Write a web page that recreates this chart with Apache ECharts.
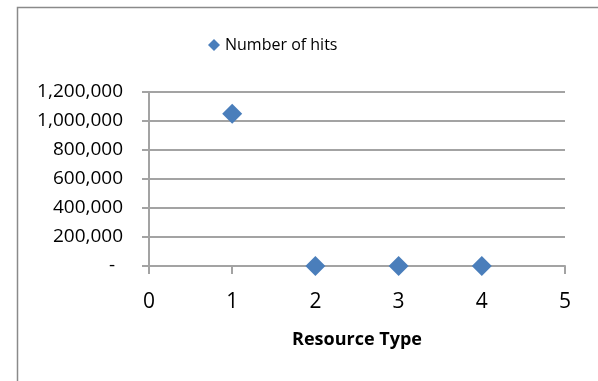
<!DOCTYPE html>
<html>
<head>
<meta charset="utf-8">
<script src="https://cdn.jsdelivr.net/npm/echarts@6/dist/echarts.min.js"></script>
<style>
  html, body { margin: 0; padding: 0; background: #fff; }
  #chart { width: 598px; height: 381px; }
</style>
</head>
<body>
<div id="chart"></div>
<script>
// Hits per resource type
const seriesName = 'Number of hits';
const resourceTypes = [1, 2, 3, 4];
const hits = [1050000, 0, 0, 0];
const xTicks = [0, 1, 2, 3, 4, 5];
const yTicks = [0, 200000, 400000, 600000, 800000, 1000000, 1200000];

const FONT = '"Open Sans", sans-serif';
const GRID_GRAY = '#a3a3a3';
const MARK_BLUE = '#4a7ebb';

const chart = echarts.init(document.getElementById('chart'), null, { renderer: 'canvas' });

function fmtThousands(v) {
  return String(v).replace(/\B(?=(\d{3})+(?!\d))/g, ',');
}

chart.setOption({
  animation: false,
  backgroundColor: '#fff',
  graphic: [{
    type: 'rect',
    left: 15, top: 5,
    shape: { width: 800, height: 600 },
    style: { fill: 'none', stroke: '#8a8a8a', lineWidth: 1.5 },
    silent: true
  }],
  legend: {
    left: 203, top: 32,
    itemWidth: 12, itemHeight: 12,
    itemGap: 10,
    textStyle: { fontFamily: FONT, fontSize: 16, color: '#000' },
    data: [{ name: seriesName, icon: 'diamond', itemStyle: { color: MARK_BLUE, opacity: 1 } }]
  },
  grid: { left: 149, right: 33, top: 92, bottom: 115 },
  xAxis: {
    type: 'value',
    min: xTicks[0], max: xTicks[xTicks.length - 1], interval: 1,
    name: 'Resource Type',
    nameLocation: 'middle',
    nameGap: 65,
    nameTextStyle: { fontFamily: FONT, fontSize: 18, fontWeight: 'bold', color: '#000' },
    axisLine: { show: true, onZero: false, lineStyle: { color: GRID_GRAY, width: 2 } },
    axisTick: { show: true, length: 8, lineStyle: { color: GRID_GRAY, width: 2 } },
    axisLabel: { margin: 26, fontFamily: FONT, fontSize: 21, color: '#000' },
    splitLine: { show: false }
  },
  yAxis: {
    type: 'value',
    min: yTicks[0], max: yTicks[yTicks.length - 1], interval: 200000,
    axisLine: { show: true, onZero: false, lineStyle: { color: GRID_GRAY, width: 2 } },
    axisTick: { show: true, length: 7, lineStyle: { color: GRID_GRAY, width: 2 } },
    axisLabel: {
      margin: 26,
      fontFamily: FONT, fontSize: 19, color: '#000',
      formatter: v => v === 0 ? '{dash|-}' : fmtThousands(v),
      rich: { dash: { fontFamily: FONT, fontSize: 19, color: '#000', padding: [0, 8, 0, 0] } }
    },
    splitLine: { show: true, lineStyle: { color: GRID_GRAY, width: 2 } }
  },
  series: [{
    name: seriesName,
    type: 'scatter',
    symbol: 'diamond',
    symbolSize: 20,
    itemStyle: { color: MARK_BLUE, opacity: 1 },
    data: resourceTypes.map((t, i) => [t, hits[i]])
  }]
});
</script>
</body>
</html>
